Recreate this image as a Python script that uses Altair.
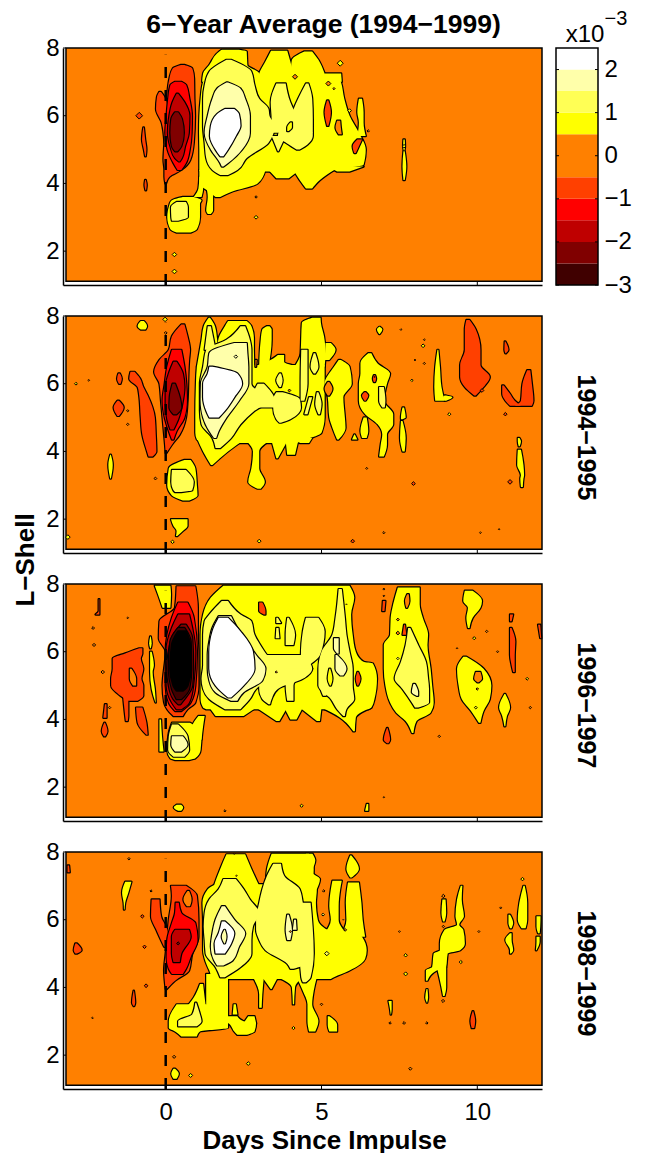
import altair as alt
import pandas as pd

FONT = "Liberation Sans"
X0, X1 = -3.296, 12.076
Y0, Y1 = 1.0, 8.0
XIMG = -3.2
YIMG = 1.11
W, H = 479, 237

COLORS = {"o": "#FF8000", "n1": "#FF4000", "n2": "#FF0000", "n3": "#BF0000", "n4": "#800000",
          "n5": "#400000", "n6": "#000000", "p1": "#FFFF00", "p2": "#FFFF55", "p3": "#FFFFAA", "p4": "#FFFFFF"}

CB_EDGES = [-3, -2.5, -2, -1.5, -1, -0.5, 0.5, 1, 1.5, 2, 2.5]
CB_LEVELS = ["n5", "n4", "n3", "n2", "n1", "o", "p1", "p2", "p3", "p4"]
CB_TICKS = [-3, -2, -1, 0, 1, 2]
X_TICKS = [0, 5, 10]
Y_TICKS = [2, 4, 6, 8]

# Each blob: level, then flat rows of L-shell, left day, right day
P1_BLOBS = [
 ("p1",[7.05,1.3,5.6, 7,1.2,5.62, 6.5,1.12,5.73, 6,1.08,5.9, 5.5,1.07,6.2, 5,1.08,6.42, 4.55,1.08,6.35, 4.4,1.08,5.4, 4.35,1.1,5.3]),
 ("p1",[7,1.17,3, 7.25,1.2,3, 7.5,1.4,2.62, 7.9,1.72,2.6, 7.95,1.8,2.35]),
 ("p1",[7,2.95,4.2, 7.25,3,4.1, 7.6,3.2,4, 7.92,3.38,3.9]),
 ("p1",[7,3.9,5.2, 7.25,4,5.1, 7.65,4.05,4.9, 7.9,4.45,4.7]),
 ("p1",[7,5,5.65, 7.25,5.1,5.63]),
 ("p1",[4.4,1.08,3.2, 4,1.08,2.95, 3.75,1.4,2.1, 3.6,1.6,1.75]),
 ("p1",[4.4,3.3,4.3, 4.15,3.55,3.95]),
 ("p1",[4.4,4.1,5.4, 4.1,4.3,4.95, 3.85,4.5,4.7]),
 ("p1",[4.5,5.2,6.35, 4.35,5.5,5.9]),
 ("p1",[6.5,6.2,6.3, 6.1,6.15,6.35, 5.8,6.2,6.35, 5.4,6.15,6.42]),
 ("p1",[4.2,1.08,1.12, 3.85,1.05,1.2, 3.6,.9,1.15]),
 ("p1",[3.6,.55,.9, 3.5,.2,1.15, 3.4,.13,1.1, 3,.05,1.1, 2.65,.15,1, 2.55,.35,.8]),
 ("p1",[3.9,1.3,1.6, 3.6,1.35,1.52, 3.2,1.3,1.52, 3.1,1.35,1.45]),
 ("p1",[4.95,7.63,7.67, 4.5,7.6,7.72, 4.1,7.63,7.67]),
 ("p1",[5.3,7.63,7.67, 5.1,7.62,7.68, 4.97,7.64,7.66]),
 ("n1",[6.45,5.18,5.22, 6.1,5.1,5.3, 5.7,5.18,5.22]),
 ("n1",[5.3,6.15,6.3, 5.1,6.0,6.2, 4.9,6.05,6.1]),
 ("o",[5.85,5.5,5.6, 5.65,5.45,5.62, 5.45,5.55,5.65]),
 ("p2",[7.65,1.95,2.1, 7.3,1.4,2.75, 6.9,1.25,2.85, 6.5,1.2,3, 6.2,1.2,3.3, 6,1.2,3.33, 5.7,1.2,3.5, 5.2,1.25,3.3, 4.75,1.3,2.6, 4.4,1.5,2.3, 4.25,1.75,2]),
 ("p2",[6.95,3.55,3.85, 6.4,3.37,4, 5.9,3.4,4.3, 5.5,3.4,4.72]),
 ("p2",[6.95,4.5,4.58, 6.5,4.25,4.7, 5.9,3.95,4.72, 5.4,3.6,4.72, 5.15,3.95,4.55, 5,4.2,4.3]),
 ("p2",[5.4,3.4,3.85, 4.95,3.6,3.62]),
 ("p2",[3.45,.35,.65, 3.3,.17,.71, 3,.18,.71, 2.9,.2,.4]),
 ("p1",[5.8,4.0,4.05, 5.65,3.9,4.05, 5.55,3.9,3.95]),
 ("p3",[6.98,1.95,2, 6.8,1.65,2.4, 6.5,1.5,2.55, 6,1.35,2.7, 5.5,1.25,2.7, 5,1.45,2.45, 4.6,1.75,2, 4.5,1.8,1.85]),
 ("p4",[6.2,1.9,2.2, 6.05,1.65,2.35, 5.7,1.45,2.4, 5.4,1.42,2.25, 5,1.6,2, 4.8,1.75,1.85]),
 ("p4",[5.95,1.85,1.95, 5.7,1.7,2.2, 5.4,1.6,1.95, 5.25,1.62,1.72]),
 ("n1",[7.5,.49,.6, 7.4,.23,.85, 7.1,.12,.91, 6.5,.04,.92, 6,0,.94, 5.2,-.04,.9, 4.7,-.07,.79, 4.4,-.04,.5, 4.2,-.04,.12, 4,-.01,.01]),
 ("n1",[6.7,-.21,-.15, 6.55,-.28,-.04, 6.2,-.31,.06, 5.8,-.13,.06, 5.2,-.04,.06]),
 ("n1",[5.65,-.72,-.7, 5.3,-.76,-.66, 5,-.7,-.62, 4.8,-.66,-.64]),
 ("n1",[4.1,-.66,-.64, 3.95,-.68,-.61, 3.8,-.65,-.63]),
 ("n2",[7,.3,.5, 6.9,.15,.66, 6.5,.08,.76, 6,.03,.84, 5.5,-.01,.83, 5,.06,.77, 4.6,.25,.65, 4.4,.38,.5]),
 ("n3",[6.65,.35,.4, 6.4,.22,.6, 6,.12,.76, 5.5,.07,.74, 5.1,.15,.62, 4.75,.3,.52, 4.65,.42,.45]),
 ("n4",[6.1,.3,.4, 5.9,.18,.52, 5.5,.15,.58, 5.1,.2,.5, 4.95,.3,.38]),
]
# Small specks: L-shell, day, level, area
P1_SPECKS = [(6,-.85,"n1",45),(7.15,4.15,"o",25),(6.95,5.22,"o",25),(6.8,5.4,"o",5),(7.55,5.6,"p1",35),(3.6,2.9,"o",6),
 (3,2.9,"p1",14),(1.9,.28,"p1",20),(1.4,.28,"p1",22),(5.55,6.5,"o",6),(6.15,5.9,"p1",14),(5.1,7.65,"p1",12)]

P2_BLOBS = [
 ("p1",[6.55,1.1,5.1, 6.5,1,5.1, 6,.97,5.1, 5,.95,5.1, 4.55,.95,5, 4.35,1,4.5, 4.25,1.3,4.2]),
 ("p1",[4.4,1,2.6, 4,1.2,2, 3.6,1.45,1.5]),
 ("p1",[4.3,2.6,3.3, 4,2.8,3, 3.5,2.75,3, 3.1,2.65,3.18, 2.9,2.95,3.05]),
 ("p1",[4.3,3.4,3.9, 3.8,3.55,3.6]),
 ("p1",[4.3,3.85,4.25, 3.9,3.9,4.15]),
 ("p1",[4.4,4.2,4.7, 4.25,4.3,4.6]),
 ("p1",[7.95,1.38,1.42, 7.7,1.22,1.58, 7.3,1.15,1.65, 6.5,1,1.7]),
 ("p1",[6.5,1.6,2.85, 7,1.65,2.83, 7.35,1.7,2.83, 7.7,1.9,2.75, 7.85,2,2.6]),
 ("p1",[6.5,3,3.3, 7.3,3.05,3.4, 7.6,3.1,3.4, 7.7,3.25,3.33]),
 ("p1",[6.5,2.8,4.3, 6.65,3.25,3.8, 6.85,3.6,3.8]),
 ("p1",[6.5,4.13,5.1, 6.9,4.33,5.13, 7.4,4.35,5.08, 7.8,4.37,4.98, 7.95,4.7,4.97]),
 ("p1",[7.2,5.13,5.3, 7,5.12,5.45, 6.7,5.1,5.25]),
 ("p1",[6.7,5.55,5.62, 6.5,5.4,5.9, 6,5.1,5.97, 5.6,5.2,5.7, 5,5.25,5.75, 4.7,5.35,5.77, 4.35,5.5,5.55]),
 ("p1",[6.9,6.5,6.6, 6.6,6.25,6.8, 6.3,6.25,7.2, 6,6.2,7.1, 5.5,6.2,7, 5.1,6.4,7.3, 4.8,6.8,7.3, 4.5,6.95,7.1, 4.2,6.9,7.1, 3.85,6.85,7]),
 ("p1",[5,6.35,6.45, 4.6,6.25,6.5, 4.4,6.3,6.45]),
 ("p1",[4.5,6.05,6.07, 4.35,5.98,6.15]),
 ("p1",[5.3,7.6,7.65, 5,7.55,7.7, 4.95,7.55,7.6]),
 ("p1",[4.9,7.55,7.6, 4.4,7.52,7.7, 4,7.6,7.67]),
 ("p1",[7,8.72,8.75, 6.5,8.65,8.8, 5.9,8.62,8.85, 5.5,8.65,8.95]),
 ("p1",[5.65,8.95,9, 5.6,8.9,9.2, 5.5,8.95,9]),
 ("p1",[7.68,6.85,6.87, 7.6,6.78,6.95, 7.47,6.85,6.87]),
 ("p1",[4.4,11.3,11.35, 4.3,11.3,11.4, 4.15,11.33,11.36]),
 ("p1",[4.05,11.3,11.4, 3.6,11.28,11.48, 3.3,11.4,11.5, 3.2,11.38,11.48, 2.95,11.4,11.46]),
 ("p1",[3.9,-1.78,-1.76, 3.6,-1.84,-1.7, 3.2,-1.78,-1.76]),
 ("p1",[7.85,-.8,-.7, 7.7,-.9,-.6, 7.6,-.8,-.65]),
 ("p1",[3.75,.6,.8, 3.5,.1,.95, 3,.05,1, 2.7,.2,1.02, 2.55,.55,.75]),
 ("p1",[2,.17,.7, 1.8,.25,.7, 1.65,.35,.55, 1.5,.33,.37]),
 ("o",[6.05,5.2,5.25, 5.85,5.1,5.35, 5.65,5.2,5.25]),
 ("o",[6.7,2.88,2.92, 6.5,2.88,2.9]),
 ("n1",[6.25,6.68,6.72, 6.15,6.65,6.75, 6.05,6.68,6.72]),
 ("n1",[5.75,6.38,6.42, 5.65,6.3,6.5, 5.5,6.38,6.42]),
 ("p2",[7.7,2.4,2.55, 7.3,1.95,2.7, 7,1.3,2.75, 6.5,1.2,2.75, 6,1.1,2.75, 5.5,1.1,3.3, 5.2,1.1,2.85, 4.8,1.15,2.4, 4.4,1.5,2.1, 4.1,1.6,1.75]),
 ("p2",[7.7,1.35,1.45, 7,1.25,1.6]),
 ("p2",[6,2.95,3.15, 5.5,2.75,3.5, 5.3,2.8,3.5]),
 ("p2",[5.75,3.55,3.75, 5.55,3.45,4.3, 5.3,3.45,4.34, 4.95,3.55,4, 4.85,3.65,3.7]),
 ("p2",[7,4.35,4.55, 6,4.33,4.55, 5.5,4.33,4.45]),
 ("p2",[6.9,4.75,4.8, 6.5,4.65,4.9, 6.3,4.75,4.8]),
 ("p2",[5.75,4.85,4.9, 5.4,4.8,5, 5.1,4.9,4.95]),
 ("p2",[5.6,4.6,4.7, 5.1,4.45,4.55]),
 ("p2",[3.45,.2,.65, 3.1,.18,.9, 2.85,.25,.85, 2.8,.3,.5]),
 ("p2",[6.3,3.65,3.7, 6.1,3.55,3.75, 5.9,3.65,3.7]),
 ("p2",[5.9,6.85,7, 5.5,6.85,7.05, 5.3,6.95,7.03]),
 ("p3",[7.2,2.2,2.6, 6.9,1.4,2.62, 6.5,1.35,2.65, 6,1.13,2.65, 5.5,1.12,2.35, 5,1.2,1.95, 4.6,1.4,1.7, 4.4,1.55,1.62]),
 ("p4",[6.5,1.4,1.5, 6.3,1.35,2.3, 6,1.2,2.45, 5.6,1.2,2.2, 5.2,1.3,1.9, 5,1.4,1.7]),
 ("p4",[5.95,1.68,1.72, 5.7,1.55,1.85, 5.4,1.4,1.7, 5.25,1.4,1.5]),
 ("n1",[7.75,.5,.6, 7.4,.2,.7, 7,.1,.78, 6.7,-.2,.75, 6.35,-.37,.73, 6,-.2,.72, 5.5,-.15,.7, 5,-.1,.65, 4.5,-.05,.45, 4.2,-.02,.2, 3.95,0,.02]),
 ("n1",[6.35,-1.13,-1, 6.15,-1.17,-.82, 5.9,-.9,-.72, 5.65,-.85,-.58, 5,-.8,-.35, 4.5,-.75,-.32, 4,-.6,-.3, 3.85,-.55,-.42]),
 ("n1",[6.3,-1.52,-1.47, 6.15,-1.56,-1.41, 6,-1.5,-1.45]),
 ("n1",[5.5,-1.55,-1.5, 5.3,-1.67,-1.35, 5.05,-1.55,-1.5]),
 ("n1",[7.88,9.65,9.75, 7.6,9.6,9.95, 7,9.6,10.1, 6.55,9.45,10.1, 6.2,9.45,10.4, 5.9,9.6,10.2, 5.65,9.9,9.95]),
 ("n1",[7.25,10.88,10.9, 7,10.87,11, 6.9,10.9,10.92]),
 ("n1",[5.95,10.8,10.85, 5.7,10.8,11.05, 5.5,10.9,11.2, 5.35,11.05,11.4]),
 ("n1",[6.4,11.6,11.7, 6,11.45,11.75, 5.5,11.4,11.8, 5.35,11.2,11.75]),
 ("n1",[5.05,-.6,-.58, 4.7,-.62,-.45, 4.55,-.47,-.45]),
 ("n2",[7,.2,.5, 6.5,.05,.6, 6,-.03,.66, 5.5,-.1,.68, 5,-.03,.6, 4.6,.1,.35, 4.35,.2,.25]),
 ("n3",[6.65,.25,.35, 6.3,.1,.55, 5.9,0,.6, 5.4,0,.53, 4.95,.05,.4, 4.65,.15,.25]),
 ("n4",[6,.22,.3, 5.6,.13,.45, 5.3,.12,.5, 5.1,.25,.35]),
]
P2_SPECKS = [(6,-2.88,"p1",8),(6.1,-2.47,"o",3),(5.2,-1.22,"o",5),(4.8,-1.22,"o",6),(3.2,-.33,"o",8),(7.9,-.02,"p1",20),(7.5,0,"o",8),
 (1.47,-3.14,"p1",22),(1.33,.22,"p1",12),(1.35,3,"p1",14),(6.8,2.25,"p3",12),(5.8,3.97,"o",8),(5.8,10.15,"n1",14),(3.1,11.05,"n1",22),
 (3.05,7.95,"n1",14),(1.35,6,"n1",14),(5.1,10.9,"n1",12),(5.1,9.1,"p1",10),(6.1,7.9,"p1",6),(3.5,6.45,"o",4),(1.6,7,"o",5),(7.6,7.55,"o",3),
 (6.7,8,"o",3),(6.6,8.3,"o",5),(7.3,8.3,"o",3),(1.6,10.1,"o",3),(1.7,10.7,"o",2),(7.12,8.26,"p1",14),(6.2,6.7,"o",1)]

P3_BLOBS = [
 ("p1",[7.95,-.35,.15, 7.7,-.25,.17, 7.3,-.1,.15]),
 ("p1",[7.95,1.85,5.9, 7.6,1.45,6.05, 7.1,1.2,5.95, 6.5,1.12,6, 6,1.12,6.1, 5.7,1.12,6.35, 5.65,1.12,6.65, 5.2,1.12,6.78, 4.6,1.12,6.7, 4.35,1.2,6.6, 4.3,1.3,6.5]),
 ("p1",[4.35,1.4,2.9, 4.1,1.6,2.5]),
 ("p1",[4.35,2.9,3.9, 3.95,3.55,3.65]),
 ("p1",[4.35,3.8,4.4, 4,4,4.2]),
 ("p1",[4.35,4.3,5, 3.95,4.85,4.95]),
 ("p1",[4.35,5,6.6, 4.05,5.6,6.1, 3.65,6.02,6.07]),
 ("p1",[3.9,.2,.78, 3.6,.1,1.15, 3.1,.05,1.12, 2.85,.15,.95, 2.8,.3,.75]),
 ("p1",[4.1,1.05,1.25, 3.8,.85,1.2, 3.4,.8,1.15]),
 ("p1",[6.45,-.5,-.48, 6.25,-.53,-.45, 6.1,-.5,-.48]),
 ("p1",[6,-.5,-.45, 5.6,-.5,-.38, 5.4,-.5,-.42, 4.9,-.45,-.35, 4.5,-.33,-.32]),
 ("p1",[4,-.2,-.15, 3.5,-.2,-.12, 3.05,-.2,-.07]),
 ("p1",[7.9,7.45,8.15, 7.4,7.3,8.15, 7,7.22,8.25, 6.5,7.2,8.42, 6.2,7,8.4, 5.5,7,8.5, 5,7.05,8.55, 4.5,7.2,8.6, 4.2,7.4,8.5, 3.95,7.7,8.05, 3.6,7.9,7.95]),
 ("p1",[5.85,9.55,9.65, 5.5,9.35,10.2, 5,9.4,10.45, 4.6,9.5,10.4, 4.25,9.8,10.2, 3.9,10.05,10.1]),
 ("p1",[7.8,9.6,9.85, 7.5,9.55,10.15, 7.3,9.7,10.1, 7,9.65,9.85, 6.7,9.7,9.75]),
 ("p1",[4.75,10.87,10.9, 4.35,10.7,11.05, 4.1,10.8,10.95, 3.8,10.87,10.9]),
 ("p1",[1.48,.35,.5, 1.4,.26,.56, 1.3,.4,.5]),
 ("p1",[1.5,6.45,6.5, 1.3,6.4,6.5]),
 ("n1",[7.45,3,3.1, 7.2,3,3.2, 7.1,3.15,3.2]),
 ("n1",[5.4,6.15,6.18, 5.2,6.1,6.25, 5,6.15,6.18]),
 ("n1",[6.8,7.65,7.68, 6.5,7.6,7.72]),
 ("o",[7.7,7.75,7.8, 7.5,7.68,7.82, 7.3,7.72,7.75]),
 ("o",[5.4,9.95,10.1, 5.2,9.9,10.15, 5.1,10,10.05]),
 ("p2",[7.5,1.8,2, 7.1,1.4,2.4, 6.9,1.25,2.75, 6.5,1.2,2.85, 6.1,1.2,3.1, 5.6,1.2,3.4, 5.2,1.15,3.3, 4.9,1.2,2.9, 4.6,1.4,2.7, 4.3,1.9,2.4]),
 ("p2",[5.9,2.9,4.4, 5.5,2.9,4.7, 5.2,3,4.4, 4.9,3,3.6, 4.6,3.1,3.4, 4.45,3.3,3.35]),
 ("p2",[5.5,3.85,4.7, 5,3.85,4.1, 4.55,3.9,4.1]),
 ("p2",[7,3.9,3.95, 6.5,3.85,4.15, 6.2,3.85,4.1]),
 ("p2",[6.7,3.55,3.62, 6.4,3.53,3.65]),
 ("p2",[7,3.55,3.6, 6.85,3.55,3.7]),
 ("p2",[7.85,5.55,5.65, 7,5.45,5.75, 6.5,5.35,5.8, 6,5,5.9, 5.5,4.9,6, 5,4.9,6, 4.6,5.3,6.05, 4.3,5.5,5.8, 4.1,5.7,5.75]),
 ("p2",[7,4.5,4.9, 6.6,4.4,5.1, 5.9,4.34,4.95, 5.6,4.5,4.6]),
 ("p2",[5.5,5,5.5, 5,4.95,5.3, 4.7,5.05,5.15]),
 ("p2",[6.7,7.78,7.85, 6.2,7.7,8.1, 5.7,7.55,8.35, 5.2,7.35,8.42, 4.9,7.6,8.45, 4.5,7.9,8.45, 4.35,8,8.1]),
 ("p2",[3.85,.2,.4, 3.5,.1,.7, 3.1,.08,.75, 2.9,.25,.6]),
 ("p1",[5.5,5.25,5.28, 5.2,5.2,5.35, 5,5.27,5.3]),
 ("p3",[7.05,1.7,2.1, 6.7,1.5,2.3, 6.3,1.4,2.6, 5.9,1.35,2.9, 5.5,1.35,3.2, 5.15,1.4,3.1, 4.8,1.6,2.5, 4.55,2.1,2.3]),
 ("p3",[6.4,5.4,5.55, 6.1,5.4,5.55, 5.95,5.5,5.55]),
 ("p3",[5.9,5.45,5.5, 5.5,5.45,5.8, 5.3,5.6,5.7]),
 ("p3",[5.05,7.95,8, 4.8,7.9,8.1, 4.7,8.05,8.1]),
 ("p3",[3.5,.2,.55, 3.25,.18,.7, 3.05,.3,.5]),
 ("p4",[7,1.7,2, 6.6,1.5,2.4, 6,1.4,2.8, 5.5,1.4,2.85, 5,1.6,2.5, 4.65,2,2.1]),
 ("p4",[6.8,1.7,1.9, 6.5,1.65,2.2, 6,1.5,2.7, 5.5,1.5,2.65, 5,1.8,2.3, 4.85,2.05,2.15]),
 ("p4",[6.25,1.9,2.3, 5.8,1.85,2.3, 5.3,2,2.3, 5.05,2.1,2.2]),
 ("n1",[7.93,.35,.95, 7.3,.3,1.03, 6.9,-.2,1.03, 6.4,-.22,1.03, 6,0,1.05, 5,-.1,1.05, 4.5,-.05,.95, 4.3,.05,.7, 4.1,.25,.55]),
 ("n1",[6.1,-.85,-.75, 5.95,-1.3,-.75, 5.8,-1.7,-.8, 5.5,-1.7,-.72, 5.2,-1.75,-.78, 5,-1.75,-.72, 4.7,-1.45,-.72, 4.55,-1.2,-.9]),
 ("n1",[5,-1.4,-1.2, 4.1,-1.3,-1.2, 3.95,-1.28,-1.22]),
 ("n1",[4.35,-.95,-.75, 3.9,-.9,-.62, 3.55,-.62,-.58]),
 ("n1",[4.45,-1.95,-1.9, 4.05,-2,-1.9]),
 ("n1",[3.9,-1.97,-1.95, 3.65,-2.05,-1.87, 3.5,-1.98,-1.94]),
 ("n1",[7.55,-2.15,-2.13, 7.2,-2.15,-2.13, 7.1,-2.25,-2.13]),
 ("n1",[6.7,11.05,11.1, 6.3,11.05,11.22, 5.9,11.05,11.2, 5.6,11.1,11.2, 5.4,11.15,11.2]),
 ("n1",[7.1,11.05,11.15, 6.9,11.05,11.1]),
 ("n1",[3.75,7.1,7.12, 3.4,7,7.2, 3.3,7.1,7.15]),
 ("n1",[7.5,6.97,7.05, 7.2,6.95,7.02]),
 ("n1",[6.8,11.95,12.02, 6.4,12.02,12.05]),
 ("o",[5.5,-1.15,-1.1, 5.2,-1.15,-.95, 5,-1.05,-.95]),
 ("n2",[7.45,.4,.7, 7,.2,.9, 6,0,1, 5,0,.95, 4.5,.1,.8, 4.25,.3,.5]),
 ("n3",[7.1,.4,.75, 6.7,.2,.85, 6,.02,.95, 5,.03,.88, 4.5,.2,.75, 4.3,.35,.5]),
 ("n4",[6.8,.5,.65, 6.4,.2,.85, 5.5,.05,.88, 5,.1,.85, 4.6,.25,.6, 4.45,.4,.47]),
 ("n5",[6.7,.4,.6, 6.3,.15,.8, 5.5,.1,.82, 4.9,.2,.75, 4.6,.35,.5]),
 ("n6",[6.6,.4,.65, 6.2,.2,.78, 5.5,.15,.8, 5,.25,.7, 4.85,.35,.55]),
]
P3_SPECKS = [(6.7,-2.33,"o",8),(6.2,-2.3,"o",10),(5.4,-2.02,"o",12),(7,-1.22,"o",3),(4.35,-1.8,"o",6),(1.3,1.9,"o",5),(1.45,4.36,"p1",10),
 (5.2,11.6,"p1",8),(7.4,5.8,"o",1),(1.7,7,"o",2),(3.5,8.78,"o",6),(4.35,11.7,"o",6),(6.6,10.3,"o",6),(6,10.65,"o",4),(6.1,9.35,"o",2),
 (7.85,7,"o",4),(7.65,7,"o",3),(6.95,7.45,"o",8),(6.55,7.45,"o",14),(5.8,7.45,"p2",6),(4.35,9.95,"p1",8),(4.9,10,"o",6),(6.4,9.9,"p1",10),(5.4,3.55,"o",5)]

P4_BLOBS = [
 ("p1",[7.93,1.95,2.55, 7.5,1.75,2.75, 7,1.55,3, 6.8,1.5,3.1]),
 ("p1",[7.95,3.4,4.6, 7.5,3.25,4.75, 7,3.2,4.72, 6.8,3.1,4.7]),
 ("p1",[7.05,1.6,4.7, 6.9,1.35,4.85, 6.5,1.18,4.82, 6,1.2,4.88, 5.7,1.2,5.2, 5.5,1.2,6.3, 5.1,1.2,6.45, 4.85,1.25,6.4, 4.5,1.4,5.9, 4.3,1.5,5.4, 4.25,1.6,5.3]),
 ("p1",[7.95,4.5,4.71, 7.75,4.5,4.8, 7.4,4.45,4.7, 7.2,4.5,4.95, 6.9,4.6,4.85]),
 ("p1",[7.15,5.35,5.65, 6.9,5.3,5.6, 6.4,5.25,5.55, 6,5.3,5.55, 5.6,5.1,5.8]),
 ("p1",[7.1,5.85,6.2, 6.5,5.78,6.28, 6,5.8,6.32, 5.5,5.6,6.4]),
 ("p1",[7.9,5.92,5.96, 7.5,5.8,6.2, 7.25,5.92,5.97]),
 ("p1",[4.4,1.3,2, 3.5,1.3,2, 3.1,1.3,2]),
 ("p1",[3.5,.35,1.3, 3,.1,2, 2.8,.1,2, 2.7,.3,1.1, 2.55,.5,1]),
 ("p1",[3.15,1.9,2.3, 3,1.9,2.5, 2.95,2,2.9, 2.7,2.2,2.85, 2.6,2.3,2.6]),
 ("p1",[3.15,2.65,2.85, 2.95,2.5,2.9]),
 ("p1",[4.1,1.1,1.2, 3.7,.9,1.25, 3.35,.6,1.3]),
 ("p1",[3.5,2.18,2.25, 3.2,2.15,2.3]),
 ("p1",[4.3,2.8,3.15, 3.8,3,3.1, 3.4,3,3.08]),
 ("p1",[4.3,3.1,3.6, 3.95,3.37,3.4]),
 ("p1",[4.3,3.6,4.4, 4,4.05,4.15, 3.5,4.08,4.12]),
 ("p1",[4.3,4.2,4.85, 3.9,4.4,4.75, 3.5,4.55,4.7, 3,4.55,4.9, 2.7,4.6,4.8]),
 ("p1",[3.15,5.2,5.25, 2.9,5.2,5.5, 2.7,5.25,5.5]),
 ("p1",[7.12,-1.3,-1.1, 6.8,-1.4,-1.2, 6.5,-1.35,-1.3, 6.3,-1.34,-1.32]),
 ("p1",[1.6,.25,.3, 1.45,.18,.42, 1.3,.25,.35]),
 ("p1",[6.6,8.88,8.98, 6.2,8.85,9, 5.95,8.9,8.95]),
 ("p1",[7,9.47,9.52, 6.6,9.35,9.5, 6.1,9.3,9.57, 5.85,9.35,9.42, 5.7,8.95,9.55, 5.3,8.8,9.6, 5.1,8.8,9.45, 5,8.6,9.05, 4.6,8.55,9, 4.5,8.35,8.7, 4.2,8.35,8.4]),
 ("p1",[4.6,8.7,9, 4,8.85,9, 3.75,8.9,8.95]),
 ("p1",[3.95,8.37,8.4, 3.7,8.33,8.42, 3.55,8.38,8.39]),
 ("p1",[3.6,7.15,7.25, 3.35,7.2,7.25, 3.2,7.22,7.23]),
 ("p1",[7,11.48,11.52, 6.5,11.35,11.6, 6,11.3,11.6, 5.75,11.42,11.55]),
 ("p1",[6.15,11,11.05, 5.9,11,11.15, 5.75,11.05,11.1]),
 ("p1",[5.6,11.05,11.1, 5.4,10.9,11.1, 5.1,11.05,11.15, 5,11.05,11.08]),
 ("p1",[6.1,11.9,12.03, 5.8,11.9,12.02, 5.6,11.95,12]),
 ("p1",[5.5,11.9,12, 5.35,11.9,12, 5.1,11.88,11.9]),
 ("p2",[7.2,1.85,2.25, 6.9,1.7,2.5, 6.6,1.4,2.7, 6.2,1.25,3, 5.8,1.22,2.8, 5.4,1.25,2.75, 5,1.28,2.75, 4.6,1.6,2.4, 4.3,1.75,1.9]),
 ("p2",[7.65,3.45,3.7, 7.3,3.25,3.8, 6.9,3.1,4.3, 6.5,3,4.4, 6,2.9,4.5, 5.7,2.9,4.65, 5.4,3,4.7, 5.1,3.2,4.65, 4.7,3.9,4.5, 4.55,4,4.1]),
 ("p2",[6.5,4.35,4.65, 5,4.3,4.75, 4.3,4.35,4.65, 4.15,4.4,4.5]),
 ("p2",[3.55,.95,.98, 3.2,.85,1.1, 3,.4,1.15, 2.85,.4,1]),
 ("p3",[6.4,1.8,1.9, 6,1.6,2.2, 5.6,1.5,2.55, 5.2,1.45,2.35, 4.8,1.55,2.15, 4.65,1.65,1.85]),
 ("p3",[6.15,3.9,3.95, 5.7,3.85,4.05, 5.4,3.9,4]),
 ("p3",[6,4.12,4.18, 5.7,4.08,4.2]),
 ("p4",[5.95,1.8,1.9, 5.6,1.7,2.2, 5.3,1.57,2.1, 5,1.6,1.9]),
 ("p3",[5.7,1.88,1.9, 5.5,1.8,1.95, 5.3,1.88,1.9]),
 ("n1",[7,.17,.65, 6.7,.2,1, 6,.1,1.05, 5.5,.05,1.05, 5,0,.85, 4.5,-.05,.75, 4.2,-.03,.3, 3.95,0,.03]),
 ("n1",[6.6,-.45,-.2, 6.1,-.47,-.15, 5.7,-.3,.05, 5.2,-.05,.1]),
 ("n1",[7.6,-3.15,-3.1, 7.4,-3.15,-3.08]),
 ("n1",[5.3,-2.9,-2.85, 5.1,-2.95,-2.7, 5,-2.9,-2.85]),
 ("n1",[3.9,-1.03,-1.02, 3.55,-1.08,-.98, 3.45,-1.03,-1.01]),
 ("n1",[3.3,9.85,9.87, 3,9.78,9.93, 2.8,9.82,9.9]),
 ("o",[6.85,.7,.75, 6.6,.57,.83, 6.4,.68,.78]),
 ("n2",[6.5,.32,.42, 6.2,.3,.5, 5.9,.2,.95, 5.4,.05,1.02, 4.9,.03,.8, 4.55,.1,.65, 4.4,.2,.55]),
 ("n3",[5.7,.3,.75, 5.5,.2,.8, 5,.2,.5, 4.75,.25,.45]),
]
P4_SPECKS = [(5.3,.4,"n4",10),(5.2,-.68,"n1",12),(6.1,-.75,"n1",12),(4.05,-.63,"n1",14),(7.8,-1.18,"o",6),(6.85,-.47,"o",5),(1.95,.27,"o",10),
 (1.4,.8,"p1",16),(1.75,2.65,"p1",14),(2.8,4.1,"p1",10),(7.95,2.2,"o",2),(3.1,-2.35,"o",3),(6.7,8.91,"o",12),(5.8,8.91,"o",6),(4.75,9.47,"p1",10),
 (4.95,7.7,"p1",12),(4.4,7.7,"p1",16),(1.6,7.85,"o",10),(2.95,7.2,"o",6),(2.95,7.65,"o",8),(2.95,8.38,"o",6),(5.65,7.5,"o",3),(5.65,10.05,"o",4),
 (6.35,10.75,"o",4),(3.6,8.9,"o",10),(7.2,11.45,"p1",12),(6.85,5.07,"o",6),(6.15,5.05,"p2",8),(6,5.7,"p1",1),(5.7,5.76,"o",8),(5,5.17,"p2",20),
 (5.65,4.0,"o",4),(3.5,5.0,"o",6),(7.3,2.27,"o",2)]


def blob_frame(blobs):
    rows, gid, i = [], 0, 0
    while i < len(blobs):
        j = i
        while j < len(blobs) and blobs[j][0] == blobs[i][0]:
            j += 1
        for stroke in ("#000000", "transparent"):
            for level, flat in blobs[i:j]:
                gid += 1
                for k in range(0, len(flat), 3):
                    rows.append({"g": f"{gid:04d}", "L": flat[k], "a": flat[k + 1], "b": flat[k + 2],
                                 "fc": COLORS[level], "sc": stroke})
        i = j
    return pd.DataFrame(rows)


def panel(blobs, specks, side=None, xtitle=None, xlabels=False, extra=None):
    xs = alt.Scale(domain=[X0, X1], nice=False, zero=False)
    ys = alt.Scale(domain=[Y0, Y1], nice=False, zero=False)
    xaxis = alt.Axis(values=X_TICKS, labels=xlabels, ticks=False, grid=False, domainColor="black", domainWidth=1.5,
                     labelFont=FONT, labelFontSize=24, labelColor="black", labelPadding=11,
                     title=xtitle, titleFont=FONT, titleFontSize=26, titleFontWeight="bold", titleColor="black",
                     titlePadding=3, titleX=261)
    yaxis = alt.Axis(values=Y_TICKS, ticks=False, grid=False, domainColor="black", domainWidth=1.5, title=None, format="d",
                     labelFont=FONT, labelFontSize=24, labelColor="black", labelPadding=4, labelFlush=False)
    img = alt.Chart(pd.DataFrame({"a": [XIMG], "b": [X1], "l": [YIMG], "u": [Y1]})).mark_rect(
        fill=COLORS["o"], stroke="black", strokeWidth=1.5).encode(
        x=alt.X("a:Q", scale=xs, axis=xaxis), x2="b:Q", y=alt.Y("l:Q", scale=ys, axis=yaxis), y2="u:Q")
    area = alt.Chart(blob_frame(blobs)).mark_area(orient="horizontal", strokeWidth=2.4, strokeJoin="round",
                                                  interpolate="monotone").encode(
        y=alt.Y("L:Q", scale=ys, axis=yaxis), x=alt.X("a:Q", scale=xs, axis=xaxis), x2="b:Q",
        fill=alt.Fill("fc:N", scale=None), stroke=alt.Stroke("sc:N", scale=None), detail="g:N")
    pts = pd.DataFrame(specks, columns=["L", "d", "lev", "s"])
    pts["fc"] = pts["lev"].map(COLORS)
    dots = alt.Chart(pts).mark_point(filled=True, stroke="black", strokeWidth=1, opacity=1, shape="diamond").encode(
        x=alt.X("d:Q", scale=xs, axis=xaxis), y=alt.Y("L:Q", scale=ys, axis=yaxis),
        fill=alt.Fill("fc:N", scale=None), size=alt.Size("s:Q", scale=None))
    dash = alt.Chart(pd.DataFrame({"d": [0], "l": [Y0], "u": [7.8]})).mark_rule(
        color="black", strokeWidth=2.5, strokeDash=[11, 12]).encode(
        x=alt.X("d:Q", scale=xs, axis=xaxis), y=alt.Y("l:Q", scale=ys, axis=yaxis), y2="u:Q")
    xt = alt.Chart(pd.DataFrame({"d": X_TICKS, "l": Y0, "u": YIMG})).mark_rule(color="black", strokeWidth=1).encode(
        x=alt.X("d:Q", scale=xs, axis=xaxis), y=alt.Y("l:Q", scale=ys, axis=yaxis), y2="u:Q")
    yt = alt.Chart(pd.DataFrame({"L": Y_TICKS, "a": X0, "b": XIMG})).mark_rule(color="black", strokeWidth=1).encode(
        y=alt.Y("L:Q", scale=ys, axis=yaxis), x=alt.X("a:Q", scale=xs, axis=xaxis), x2="b:Q")
    layers = [img, area, dots, dash, xt, yt]
    if side:
        layers.append(alt.Chart(pd.DataFrame({"t": [side]})).mark_text(
            angle=90, font=FONT, fontSize=25, fontWeight="bold", color="black").encode(
            text="t:N", x=alt.value(W + 44), y=alt.value(H / 2 + 3)))
    if extra:
        layers.append(alt.Chart(pd.DataFrame({"t": [extra]})).mark_text(
            angle=270, font=FONT, fontSize=26, fontWeight="bold", color="black").encode(
            text="t:N", x=alt.value(-37), y=alt.value(-24)))
    return alt.layer(*layers).properties(width=W, height=H)


cb_df = pd.DataFrame({"lo": CB_EDGES[:-1], "hi": CB_EDGES[1:], "fc": [COLORS[k] for k in CB_LEVELS]})
cy = alt.Scale(domain=[-3, 2.5], nice=False, zero=False)
cb_axis = alt.Axis(orient="right", values=CB_TICKS, ticks=False, grid=False, domain=False, title=None,
                   labelFont=FONT, labelFontSize=24, labelColor="black", labelPadding=6, labelFlush=False,
                   labelExpr="replace(toString(datum.value), '-', '\u2212')")
cb_bands = alt.Chart(cb_df).mark_rect().encode(
    y=alt.Y("lo:Q", scale=cy, axis=cb_axis), y2="hi:Q",
    x=alt.value(0), x2=alt.value(42), fill=alt.Fill("fc:N", scale=None))
cb_frame = alt.Chart(pd.DataFrame({"lo": [-3], "hi": [2.5]})).mark_rect(
    fill="transparent", stroke="black", strokeWidth=1.5).encode(
    y=alt.Y("lo:Q", scale=cy, axis=cb_axis), y2="hi:Q", x=alt.value(0), x2=alt.value(42))
cb_t1 = alt.Chart(pd.DataFrame({"v": CB_TICKS})).mark_rule(color="black").encode(
    y=alt.Y("v:Q", scale=cy, axis=cb_axis), x=alt.value(0), x2=alt.value(3))
cb_t2 = alt.Chart(pd.DataFrame({"v": CB_TICKS})).mark_rule(color="black").encode(
    y=alt.Y("v:Q", scale=cy, axis=cb_axis), x=alt.value(39), x2=alt.value(42))
cb_x = alt.Chart(pd.DataFrame({"t": ["x10"]})).mark_text(font=FONT, fontSize=24, color="black").encode(
    text="t:N", x=alt.value(29), y=alt.value(-13))
cb_e = alt.Chart(pd.DataFrame({"t": ["\u22123"]})).mark_text(font=FONT, fontSize=20, color="black").encode(
    text="t:N", x=alt.value(60), y=alt.value(-29))
colorbar = alt.layer(cb_bands, cb_frame, cb_t1, cb_t2, cb_x, cb_e).properties(width=42, height=H)

p1 = panel(P1_BLOBS, P1_SPECKS).properties(title=alt.TitleParams(
    "6\u2212Year Average (1994\u22121999)", font=FONT, fontSize=26.5, fontWeight="bold", color="black",
    anchor="middle", offset=-2, dx=21))
p2 = panel(P2_BLOBS, P2_SPECKS, side="1994\u22121995")
p3 = panel(P3_BLOBS, P3_SPECKS, side="1996\u22121997", extra="L\u2212Shell")
p4 = panel(P4_BLOBS, P4_SPECKS, side="1998\u22121999", xtitle="Days Since Impulse", xlabels=True)


def empty():
    return alt.Chart(pd.DataFrame({"v": [0]})).mark_point(opacity=0).encode(
        x=alt.value(0), y=alt.value(0)).properties(width=42, height=H)


chart = alt.concat(p1, colorbar, p2, empty(), p3, empty(), p4, columns=2,
                   spacing={"row": 31, "column": 14}, bounds="flush").properties(
    padding={"left": 4, "top": 1, "right": 0, "bottom": 0}).configure_view(stroke=None)
chart.save("out.html", embed_options={"renderer": "svg", "actions": False})
